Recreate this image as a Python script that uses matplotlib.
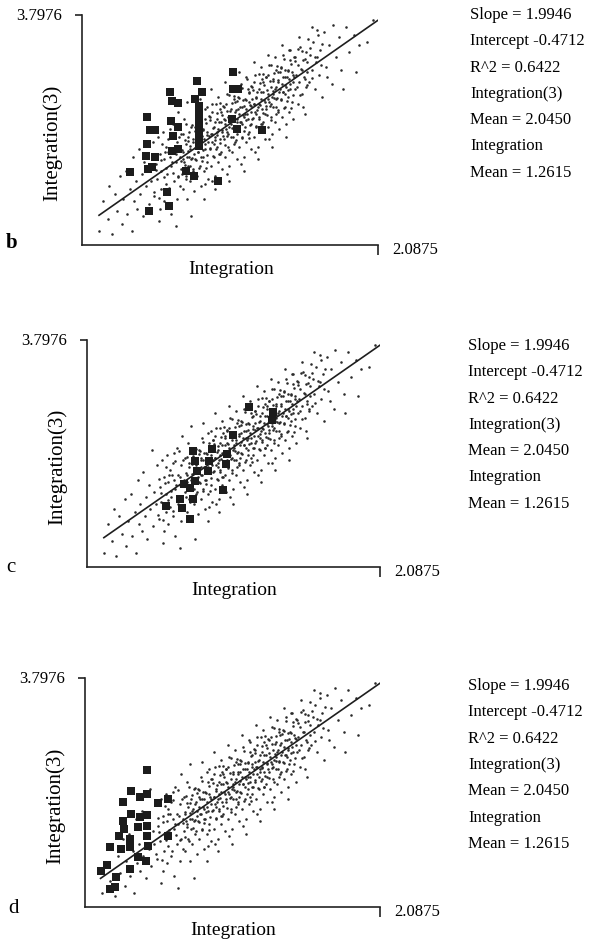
import numpy as np
import matplotlib
matplotlib.use("Agg")
import matplotlib.pyplot as plt

# =============================================
#                    DATOS
# =============================================

slope = 1.9946
intercept = -0.4712
x_max = 2.0875
y_max = 3.7976
y_min = -0.83

stats_lines = ["Slope = 1.9946", "Intercept -0.4712", "R^2 = 0.6422",
               "Integration(3)", "Mean = 2.0450", "Integration", "Mean = 1.2615"]

cloud_x = [
    0.12, 0.15, 0.18, 0.19,
    0.21, 0.23, 0.25, 0.27, 0.28, 0.29,
    0.31, 0.32, 0.34, 0.35, 0.36, 0.37, 0.38, 0.39,
    0.40, 0.41, 0.42, 0.43, 0.44, 0.45, 0.46, 0.47, 0.48, 0.49,
    0.50, 0.51, 0.52, 0.53, 0.54, 0.55, 0.56, 0.56, 0.57, 0.58, 0.58, 0.59, 0.59, 0.55,
    0.60, 0.61, 0.61, 0.62, 0.63, 0.63, 0.64, 0.65, 0.65, 0.66, 0.67, 0.67, 0.68, 0.68, 0.69, 0.69, 0.62, 0.66,
    0.70, 0.70, 0.71, 0.71, 0.72, 0.72, 0.73, 0.73, 0.74, 0.74, 0.75, 0.75, 0.76, 0.76, 0.77, 0.77, 0.78, 0.78, 0.79, 0.79, 0.74, 0.77,
    0.80, 0.80, 0.81, 0.81, 0.82, 0.82, 0.83, 0.83, 0.84, 0.84, 0.85, 0.85, 0.86, 0.86, 0.87, 0.87, 0.88, 0.88, 0.89, 0.89, 0.83, 0.86, 0.88, 0.81, 0.84, 0.87,
    0.90, 0.90, 0.91, 0.91, 0.92, 0.92, 0.93, 0.93, 0.94, 0.94, 0.95, 0.95, 0.96, 0.96, 0.97, 0.97, 0.98, 0.98, 0.99, 0.99, 0.91, 0.94, 0.96, 0.93, 0.97, 0.95, 0.92, 0.98,
    1.00, 1.00, 1.01, 1.01, 1.02, 1.02, 1.03, 1.03, 1.04, 1.04, 1.05, 1.05, 1.06, 1.06, 1.07, 1.07, 1.08, 1.08, 1.09, 1.09, 1.01, 1.04, 1.06, 1.03, 1.07, 1.05, 1.02, 1.08, 1.09, 1.00,
    1.10, 1.10, 1.11, 1.11, 1.12, 1.12, 1.13, 1.13, 1.14, 1.14, 1.15, 1.15, 1.16, 1.16, 1.17, 1.17, 1.18, 1.18, 1.19, 1.19, 1.11, 1.14, 1.16, 1.13, 1.17, 1.15, 1.12, 1.18, 1.19, 1.10,
    1.20, 1.20, 1.21, 1.21, 1.22, 1.22, 1.23, 1.23, 1.24, 1.24, 1.25, 1.25, 1.26, 1.26, 1.27, 1.27, 1.28, 1.28, 1.29, 1.29, 1.21, 1.24, 1.26, 1.23, 1.27, 1.25, 1.22, 1.28, 1.29, 1.20,
    1.30, 1.30, 1.31, 1.31, 1.32, 1.32, 1.33, 1.33, 1.34, 1.34, 1.35, 1.35, 1.36, 1.36, 1.37, 1.37, 1.38, 1.38, 1.39, 1.39, 1.31, 1.34, 1.36, 1.33, 1.37, 1.35, 1.32, 1.38,
    1.40, 1.40, 1.41, 1.41, 1.42, 1.42, 1.43, 1.43, 1.44, 1.44, 1.45, 1.45, 1.46, 1.46, 1.47, 1.47, 1.48, 1.48, 1.49, 1.49, 1.41, 1.44, 1.46, 1.43,
    1.50, 1.50, 1.51, 1.52, 1.52, 1.53, 1.54, 1.55, 1.55, 1.56, 1.57, 1.57, 1.58, 1.58, 1.59, 1.53, 1.56, 1.59,
    1.60, 1.61, 1.62, 1.63, 1.64, 1.65, 1.66, 1.67, 1.68, 1.69, 1.62, 1.66,
    1.71, 1.72, 1.74, 1.76, 1.77, 1.79, 1.73,
    1.81, 1.83, 1.86, 1.88, 1.84,
    1.92, 1.95, 1.93,
    2.01, 2.05,
    # núcleo denso
    0.505, 0.515, 0.525, 0.535, 0.545, 0.555, 0.565, 0.575, 0.585, 0.595,
    0.605, 0.615, 0.625, 0.635, 0.645, 0.655, 0.665, 0.675, 0.685, 0.695,
    0.705, 0.705, 0.715, 0.715, 0.725, 0.725, 0.735, 0.735, 0.745, 0.745,
    0.755, 0.755, 0.765, 0.765, 0.775, 0.775, 0.785, 0.785, 0.795, 0.795,
    0.805, 0.805, 0.815, 0.815, 0.825, 0.825, 0.835, 0.835, 0.845, 0.845,
    0.855, 0.855, 0.865, 0.865, 0.875, 0.875, 0.885, 0.885, 0.895, 0.895,
    0.905, 0.905, 0.915, 0.915, 0.925, 0.925, 0.935, 0.935, 0.945, 0.945,
    0.955, 0.955, 0.965, 0.965, 0.975, 0.975, 0.985, 0.985, 0.995, 0.995,
    1.005, 1.005, 1.015, 1.015, 1.025, 1.025, 1.035, 1.035, 1.045, 1.045,
    1.055, 1.055, 1.065, 1.065, 1.075, 1.075, 1.085, 1.085, 1.095, 1.095,
    1.105, 1.105, 1.115, 1.115, 1.125, 1.125, 1.135, 1.135, 1.145, 1.145,
    1.155, 1.155, 1.165, 1.165, 1.175, 1.175, 1.185, 1.185, 1.195, 1.195,
    1.205, 1.205, 1.215, 1.215, 1.225, 1.225, 1.235, 1.235, 1.245, 1.245,
    1.255, 1.255, 1.265, 1.265, 1.275, 1.275, 1.285, 1.285, 1.295, 1.295,
    1.305, 1.305, 1.315, 1.315, 1.325, 1.325, 1.335, 1.335, 1.345, 1.345,
    1.355, 1.355, 1.365, 1.365, 1.375, 1.375, 1.385, 1.385, 1.395, 1.395,
    1.405, 1.405, 1.415, 1.415, 1.425, 1.425, 1.435, 1.435, 1.445, 1.445,
    1.455, 1.455, 1.465, 1.465, 1.475, 1.475, 1.485, 1.485, 1.495, 1.495,
    1.505, 1.515, 1.525, 1.535, 1.545, 1.555, 1.565, 1.575, 1.585, 1.595,
    1.605, 1.625, 1.645, 1.665, 1.685, 1.695,
]
cloud_y = [
    -0.55, 0.05, -0.30, 0.35,
    -0.60, 0.20, -0.15, 0.55, -0.40, 0.10,
    0.65, -0.20, 0.30, -0.55, 0.95, 0.05, 0.45, -0.10,
    1.10, 0.20, 0.60, -0.25, 0.85, 0.35, 1.55, 0.00, 0.70, 0.45,
    1.25, 0.15, 0.80, 0.50, -0.35, 1.00, 0.30, 0.65, 1.45, 0.05, 0.90, 0.40, 1.15, -0.10,
    0.60, 1.30, 0.20, 0.95, -0.20, 0.75, 1.60, 0.45, 1.05, 0.85, 0.10, 1.25, 0.55, 1.85, 0.95, 0.35, 1.50, -0.45,
    0.70, 1.40, 1.05, 0.30, 0.85, 1.70, 0.55, 1.20, 0.95, 0.10, 1.35, 0.75, 1.10, 0.45, 1.55, 0.90, 0.65, 1.25, 1.00, 0.25, 2.05, -0.25,
    0.90, 1.55, 1.20, 0.55, 1.05, 1.80, 0.75, 1.35, 1.15, 0.35, 1.50, 0.95, 1.30, 0.65, 1.70, 1.10, 0.85, 1.45, 1.25, 0.50, 2.10, 0.10, 1.95, 1.40, 0.95, 0.40,
    1.10, 1.75, 1.40, 0.75, 1.25, 2.00, 0.95, 1.55, 1.35, 0.55, 1.70, 1.15, 1.50, 0.85, 1.90, 1.30, 1.05, 1.65, 1.45, 0.70, 2.30, 0.30, 2.15, 1.20, 1.00, 1.45, 0.45, 1.85,
    1.30, 1.95, 1.60, 0.95, 1.45, 2.20, 1.15, 1.75, 1.55, 0.75, 1.90, 1.35, 1.70, 1.05, 2.10, 1.50, 1.25, 1.85, 1.65, 0.90, 2.45, 0.45, 2.35, 1.40, 1.20, 1.60, 0.60, 2.05, 1.40, 1.70,
    1.50, 2.15, 1.80, 1.15, 1.65, 2.40, 1.35, 1.95, 1.75, 0.95, 2.10, 1.55, 1.90, 1.25, 2.30, 1.70, 1.45, 2.05, 1.85, 1.10, 2.65, 0.65, 2.55, 1.60, 1.40, 1.80, 0.80, 2.25, 1.60, 1.90,
    1.70, 2.35, 2.00, 1.35, 1.85, 2.60, 1.55, 2.15, 1.95, 1.15, 2.30, 1.75, 2.10, 1.45, 2.50, 1.90, 1.65, 2.25, 2.05, 1.30, 2.85, 0.90, 2.75, 1.80, 1.60, 2.00, 1.05, 2.45, 1.80, 2.10,
    1.90, 2.55, 2.20, 1.55, 2.05, 2.80, 1.75, 2.35, 2.15, 1.40, 2.50, 1.95, 2.30, 1.65, 2.70, 2.10, 1.85, 2.45, 2.25, 1.50, 3.00, 1.15, 2.95, 2.00, 1.80, 2.20, 1.30, 2.65,
    2.10, 2.75, 2.40, 1.75, 2.25, 3.00, 1.95, 2.55, 2.35, 1.60, 2.70, 2.15, 2.50, 1.85, 2.90, 2.30, 2.05, 2.65, 2.45, 1.70, 3.20, 1.35, 3.10, 2.20,
    2.30, 2.95, 2.60, 2.00, 2.80, 2.45, 3.15, 2.20, 2.70, 2.90, 2.50, 1.80, 3.05, 2.35, 2.65, 3.35, 1.95, 2.85,
    2.45, 3.00, 2.70, 3.25, 2.30, 2.85, 3.50, 2.60, 3.10, 2.15, 3.55, 2.95,
    3.45, 2.75, 3.20, 2.40, 3.60, 2.95, 2.55,
    3.35, 2.70, 3.55, 3.05, 2.30,
    3.40, 3.20, 2.65,
    3.25, 3.70,
    # núcleo denso
    0.24, 0.96, 0.68, 1.35, 0.12, 0.89, 1.21, 0.53, 1.05, 0.72,
    1.04, 0.31, 1.33, 0.85, 0.62, 1.54, 1.01, 0.53, 1.35, 0.87,
    1.09, 0.59, 1.41, 0.91, 1.28, 0.78, 1.60, 0.50, 1.07, 1.27,
    0.94, 1.44, 0.76, 1.16, 1.58, 0.93, 1.30, 0.70, 1.47, 1.12,
    1.53, 0.88, 1.05, 1.35, 1.72, 0.72, 1.20, 1.50, 0.86, 1.36,
    1.48, 1.08, 1.90, 1.20, 0.72, 1.62, 1.39, 0.99, 1.76, 1.36,
    1.13, 1.68, 1.85, 1.40, 0.97, 1.52, 1.64, 1.29, 2.01, 1.11,
    1.38, 1.83, 1.65, 1.00, 1.22, 2.02, 1.79, 1.49, 1.36, 1.96,
    1.68, 1.18, 2.00, 1.50, 1.87, 1.37, 2.19, 1.09, 1.66, 1.86,
    1.53, 2.03, 1.35, 1.75, 2.17, 1.52, 1.89, 1.29, 2.06, 1.71,
    2.13, 1.48, 1.65, 1.95, 2.32, 1.32, 1.79, 2.09, 1.46, 1.96,
    2.08, 1.68, 2.50, 1.80, 1.32, 2.22, 1.99, 1.59, 2.36, 1.96,
    1.73, 2.28, 2.45, 2.00, 1.57, 2.12, 2.24, 1.89, 2.61, 1.71,
    1.98, 2.43, 2.25, 1.60, 1.82, 2.62, 2.39, 2.09, 1.96, 2.56,
    2.28, 1.78, 2.60, 2.10, 2.47, 1.97, 2.79, 1.69, 2.26, 2.46,
    2.13, 2.63, 1.95, 2.35, 2.77, 2.12, 2.49, 1.89, 2.66, 2.31,
    2.73, 2.08, 2.25, 2.55, 2.92, 1.92, 2.39, 2.69, 2.06, 2.56,
    2.68, 2.28, 3.10, 2.40, 1.92, 2.82, 2.59, 2.19, 2.96, 2.56,
    2.88, 2.35, 3.12, 2.19, 2.71, 3.08, 2.55, 2.92, 2.39, 3.31,
    3.13, 2.52, 2.96, 3.40, 2.79, 3.21,
]

# puntos resaltados (cuadrados) de cada panel
sq_b_x = [0.456, 0.480, 0.515, 0.456, 0.451, 0.515, 0.465, 0.492, 0.338,
          0.621, 0.633, 0.679, 0.626, 0.679, 0.644, 0.679, 0.633,
          0.813, 0.844, 0.797, 0.825, 0.825, 0.825, 0.825, 0.825, 0.825, 0.827,
          0.733, 0.790, 0.961, 0.597, 0.616, 0.472,
          1.063, 1.067, 1.102, 1.056, 1.095, 1.271]
sq_b_y = [1.741, 1.492, 1.492, 1.205, 0.970, 0.937, 0.702, 0.736, 0.648,
          2.244, 2.075, 2.029, 1.673, 1.540, 1.372, 1.104, 1.070,
          2.477, 2.244, 2.109, 1.969, 1.828, 1.687, 1.546, 1.406, 1.265, 1.170,
          0.668, 0.567, 0.467, 0.234, -0.048, -0.148,
          2.646, 2.310, 2.310, 1.707, 1.506, 1.492]

sq_c_x = [1.156, 1.323, 1.316, 1.038, 0.894, 0.757, 0.770, 0.782, 0.770,
          0.871, 0.864, 0.995, 0.990, 0.693, 0.734, 0.971, 0.753, 0.663,
          0.563, 0.675, 0.734]
sq_c_y = [2.424, 2.329, 2.166, 1.870, 1.584, 1.539, 1.335, 1.131, 0.927,
          1.335, 1.131, 1.472, 1.268, 0.860, 0.772, 0.744, 0.554, 0.554,
          0.405, 0.364, 0.146]

sq_d_x = [0.441, 0.328, 0.387, 0.441, 0.269, 0.517, 0.587, 0.323, 0.387, 0.441,
          0.269, 0.276, 0.375, 0.441, 0.238, 0.316, 0.316, 0.441, 0.446, 0.175,
          0.257, 0.587, 0.375, 0.434, 0.158, 0.111, 0.316, 0.221, 0.175, 0.210]
sq_d_y = [1.937, 1.507, 1.385, 1.452, 1.296, 1.270, 1.351, 1.048, 0.981, 1.027,
          0.912, 0.744, 0.779, 0.811, 0.597, 0.542, 0.374, 0.597, 0.395, 0.374,
          0.340, 0.597, 0.172, 0.104, 0.017, -0.099, -0.064, -0.232, -0.469, -0.435]

# =============================================
#                   GRÁFICO
# =============================================

plt.rcParams['font.family'] = ['Liberation Serif', 'DejaVu Serif']

W, H = 596, 953
fig = plt.figure(figsize=(W / 100, H / 100), dpi=100)
fig.patch.set_facecolor('white')


def fx(px):
    return px / W


def fy(py):
    return 1 - py / H


# caja en píxeles (izq, der, arriba, abajo), letra y posición de los textos
panels = [
    dict(box=(82, 378, 16, 246), letter='b', bold=True, lx=(6, 248), x0=0.12,
         sq=(sq_b_x, sq_b_y), ty=15, tx=470),
    dict(box=(87, 380, 341, 568), letter='c', bold=False, lx=(6, 572), x0=0.12,
         sq=(sq_c_x, sq_c_y), ty=346, tx=468),
    dict(box=(85, 380, 679, 908), letter='d', bold=False, lx=(8, 913), x0=0.11,
         sq=(sq_d_x, sq_d_y), ty=686, tx=468),
]

for p in panels:
    l, r, t, b = p['box']
    ax = fig.add_axes([fx(l), fy(b), fx(r) - fx(l), fy(t) - fy(b)])
    ax.set_xlim(0, x_max)
    ax.set_ylim(y_min, y_max)

    ax.scatter(cloud_x, cloud_y, s=3.4, color='#2b2b2b', linewidths=0, zorder=2)
    ax.scatter(p['sq'][0], p['sq'][1], s=34, marker='s', color='#1c1c1c',
               linewidths=0, zorder=3)

    lx = np.array([p['x0'], x_max])
    ax.plot(lx, slope * lx + intercept, color='#1e1e1e', lw=1.2, zorder=4)

    for side in ['top', 'right']:
        ax.spines[side].set_visible(False)
    for side in ['left', 'bottom']:
        ax.spines[side].set_linewidth(1.2)
        ax.spines[side].set_color('#222222')

    ax.set_xticks([x_max])
    ax.set_yticks([y_max])
    ax.set_xticklabels([])
    ax.set_yticklabels([])
    ax.tick_params(axis='x', direction='out', length=7, width=1.2, color='#222222')
    ax.tick_params(axis='y', direction='out', length=5, width=1.2, color='#222222')

    fig.text(fx(l - 20), fy(t), '3.7976', ha='right', va='center', fontsize=12)
    fig.text(fx(r + 14), fy(b + 4), '2.0875', ha='left', va='center', fontsize=12)
    fig.text(fx((l + r) / 2 + 1), fy(b + 23), 'Integration', ha='center',
             va='center', fontsize=14)
    fig.text(fx(l - 30), fy((t + b) / 2 + 12), 'Integration(3)', ha='center',
             va='center', rotation=90, fontsize=15)
    fig.text(fx(p['lx'][0]), fy(p['lx'][1]), p['letter'], ha='left',
             va='baseline', fontsize=15,
             fontweight='bold' if p['bold'] else 'normal')

    for i, s in enumerate(stats_lines):
        fig.text(fx(p['tx']), fy(p['ty'] + i * 26.3), s, ha='left', va='center',
                 fontsize=12)

fig.savefig('out.png', dpi=100, facecolor='white')
